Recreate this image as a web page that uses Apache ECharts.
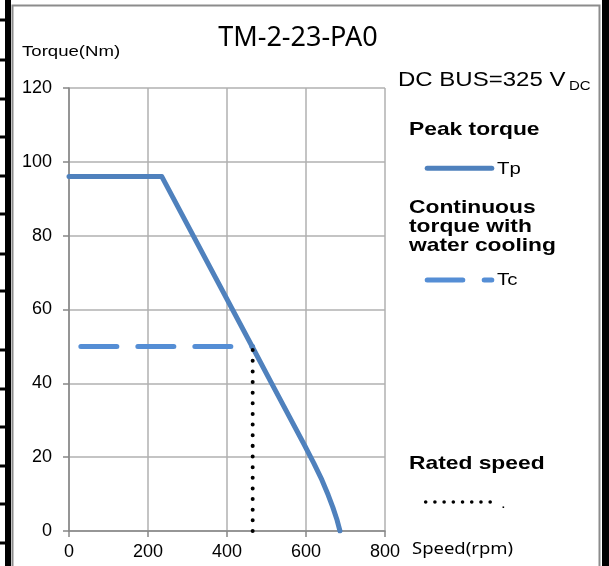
<!DOCTYPE html>
<html>
<head>
<meta charset="utf-8">
<script src="https://cdn.jsdelivr.net/npm/echarts@6/dist/echarts.min.js"></script>
<style>
html,body{margin:0;padding:0;background:#fff;}
#c{width:609px;height:566px;}
</style>
</head>
<body>
<div id="c"></div>
<script>
// ---- data ----
var title = 'TM-2-23-PA0';
var xTicks = [0, 200, 400, 600, 800];
var yTicks = [0, 20, 40, 60, 80, 100, 120];
// Peak torque Tp: [speed rpm, torque Nm]
var tpSpeed  = [0, 235, 465, 513, 595, 620, 640, 656, 668, 678, 686];
var tpTorque = [96, 96, 49.7, 40, 23.5, 18.3, 13.9, 9.8, 6.4, 3.2, 0];
// Continuous torque Tc (water cooling)
var tcSpeed  = [30, 465];
var tcTorque = [50, 50];
// Rated speed marker
var ratedSpeed = [465, 465];
var ratedTorque = [0, 49];

function pairs(xs, ys){ return xs.map(function(x,i){ return [x, ys[i]]; }); }

var chart = echarts.init(document.getElementById('c'), null, {renderer:'canvas'});
var SX = 1.2;
var AR = 'Liberation Sans, Arial, sans-serif';
function txt(x, y, text, size, bold, extra, sx){
  var o = {type:'text', x:x, y:y, scaleX:sx||SX, originX:0, originY:0, z:10,
    style:{text:text, fontSize:size, fontFamily:AR, fontWeight:bold?'bold':'normal', fill:'#000', align:'left', verticalAlign:'middle'}};
  if (extra) for (var k in extra) o.style[k]=extra[k];
  return o;
}
var leftTicks = [20, 60, 99, 137, 176, 214, 254, 291, 350, 389, 427, 466, 504, 543];
var graphics = [
  {type:'rect', shape:{x:12.5, y:5.5, width:587, height:600}, style:{fill:'none', stroke:'#8c8c8c', lineWidth:2}, z:1},
  {type:'rect', shape:{x:5, y:0, width:6, height:566}, style:{fill:'#000'}, z:2},
  {type:'rect', shape:{x:602, y:0, width:7, height:566}, style:{fill:'#000'}, z:2}
];
leftTicks.forEach(function(y){
  graphics.push({type:'rect', shape:{x:0, y:y-1.5, width:6, height:3}, style:{fill:'#000'}, z:2});
});
graphics = graphics.concat([
  {type:'text', x:298, y:38, z:10, style:{text:title, fontSize:27, fontFamily:'Noto Sans', fill:'#000', align:'center', verticalAlign:'middle'}},
  txt(22, 52, 'Torque(Nm)', 15.5, false, null, 1.2),
  txt(398, 80, 'DC BUS=325 V', 20, false),
  txt(569, 87, 'DC', 12.5, false),
  txt(409, 130, 'Peak torque', 19, true),
  {type:'line', z:10, shape:{x1:427.2, y1:168.3, x2:491.8, y2:168.3}, style:{stroke:'#4f81bd', lineWidth:5, lineCap:'round'}},
  txt(497, 169, 'Tp', 17, false),
  txt(409, 227, 'Continuous\ntorque with\nwater cooling', 19, true, {lineHeight:19}),
  {type:'line', z:10, shape:{x1:427.2, y1:280, x2:462.8, y2:280}, style:{stroke:'#558ed5', lineWidth:5, lineCap:'round'}},
  {type:'line', z:10, shape:{x1:484.2, y1:280, x2:491.8, y2:280}, style:{stroke:'#558ed5', lineWidth:5, lineCap:'round'}},
  txt(497, 280, 'Tc', 17, false),
  txt(409, 464, 'Rated speed', 19, true),
  {type:'line', z:10, shape:{x1:425.7, y1:502, x2:490.2, y2:502}, style:{stroke:'#000', lineWidth:3.6, lineCap:'round', lineDash:[0.01, 9.2]}},
  txt(501, 504, '.', 14, false),
  txt(412, 549, 'Speed(rpm)', 16.5, false, {fontFamily:'Noto Sans'}, 1.12)
]);

var option = {
  animation:false,
  backgroundColor:'#fff',
  grid:{left:69, right:224, top:88, bottom:35, containLabel:false, outerBoundsMode:'none'},
  xAxis:{type:'value', min:xTicks[0], max:xTicks[xTicks.length-1], interval:200,
    axisLine:{show:true, onZero:false, lineStyle:{color:'#868686', width:1.5}},
    axisTick:{show:true, inside:false, length:6, lineStyle:{color:'#868686', width:1.5}},
    axisLabel:{margin:12, fontSize:18, fontFamily:AR, color:'#000',
      formatter:function(v){ return xTicks.indexOf(v)>=0 ? String(v) : ''; }},
    splitLine:{show:true, lineStyle:{color:'#b0b0b0', width:1.5}}},
  yAxis:{type:'value', min:yTicks[0], max:yTicks[yTicks.length-1], interval:20,
    axisLine:{show:true, onZero:false, lineStyle:{color:'#868686', width:1.5}},
    axisTick:{show:true, inside:false, length:6, lineStyle:{color:'#868686', width:1.5}},
    axisLabel:{margin:17, fontSize:18, fontFamily:AR, color:'#000',
      formatter:function(v){ return yTicks.indexOf(v)>=0 ? String(v) : ''; }},
    splitLine:{show:true, lineStyle:{color:'#b0b0b0', width:1.5}}},
  series:[
    {name:'Tc', type:'line', data:pairs(tcSpeed, tcTorque), symbol:'none', z:3,
      lineStyle:{color:'#558ed5', width:5, type:[36,21], cap:'round'}},
    {name:'Tp', type:'line', data:pairs(tpSpeed, tpTorque), symbol:'none', z:4,
      lineStyle:{color:'#4f81bd', width:5, cap:'round', join:'round'}},
    {name:'Rated speed', type:'line', data:pairs(ratedSpeed, ratedTorque), symbol:'none', z:5,
      lineStyle:{color:'#000', width:4, type:[0.01, 10.63], cap:'round'}}
  ],
  graphic:graphics
};
chart.setOption(option);
</script>
</body>
</html>
